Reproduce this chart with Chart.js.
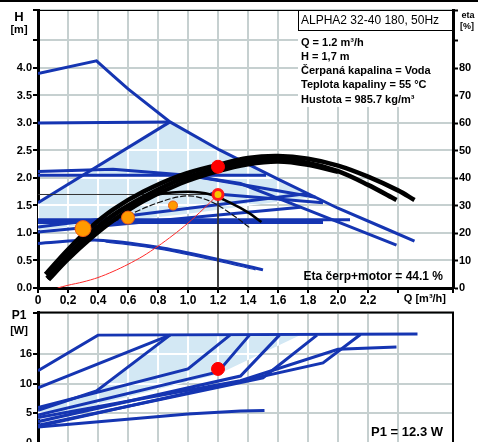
<!DOCTYPE html>
<html>
<head>
<meta charset="utf-8" />
<script src="https://cdn.jsdelivr.net/npm/chart.js@4.4.1/dist/chart.umd.min.js"></script>
<style>
 html, body { margin: 0; padding: 0; background: #fff; overflow: hidden; }
 body { width: 478px; height: 442px; position: relative; }
 #bar { position: absolute; left: 0; top: 0; width: 478px; height: 2px; background: #000; }
 #c1 { position: absolute; left: 0; top: 0; }
 #c2 { position: absolute; left: 0; top: 305px; }
</style>
<title>ALPHA2 32-40 180</title>
</head>
<body>
<canvas id="c1" width="478" height="305"></canvas>
<canvas id="c2" width="478" height="170"></canvas>
<div id="bar"></div>
<script>
// ---- data (Q in m3/h, H in m, eta in %, P1 in W) ----
var curveIII   = [[0,3.9],[0.39,4.13],[0.5,3.86],[0.6,3.62],[0.88,3.02],[1.21,2.51],[1.6,1.98],[2.0,1.45],[2.3,1.1],[2.51,0.85]];
var curveII    = [[0,2.12],[0.5,2.16],[1.0,2.05],[1.35,1.9],[1.75,1.47],[2.39,0.78]];
var curveI     = [[0,0.81],[0.4,0.87],[0.8,0.74],[1.2,0.52],[1.5,0.33]];
var curveIb    = [[0.45,0.84],[0.8,0.71],[1.2,0.49],[1.45,0.33]];
var cp3        = [[0,3.0],[0.88,3.02]];
var pp3        = [[0,1.55],[0.88,3.02]];
var cp2        = [[0,2.05],[1.52,2.05]];
var pp2        = [[0,1.11],[1.8,1.72]];
var pp1        = [[0,1.02],[1.75,1.47]];
var cp1        = [[0,1.24],[2.08,1.24]];
var cp1b       = [[0,1.19],[1.9,1.19]];
var fanA       = [[1.0,2.05],[1.85,1.65]];
var fanB       = [[1.15,1.72],[1.9,1.55]];
var autoArea   = [[0,1.05],[0,1.55],[0.88,3.02],[1.21,2.51],[1.6,1.98],[1.85,1.66],[1.0,1.35],[0,1.05]];

var etaA = [[0.05,5],[0.2,14],[0.35,22],[0.5,28.5],[0.7,35],[0.95,41],[1.2,44.8],[1.4,47.3],[1.6,48],[1.8,47],[2.0,44.5],[2.2,40.5],[2.4,35.5],[2.51,32]];
var etaB = [[0.06,3.5],[0.2,12],[0.35,20],[0.5,26.5],[0.7,33],[0.95,39.5],[1.2,43.5],[1.4,46],[1.6,46.8],[1.8,45.5],[2.0,42.5],[2.2,37.5],[2.39,32]];
var etaC = [[0.07,3],[0.2,10.5],[0.35,18],[0.5,24.5],[0.7,31.5],[0.95,38],[1.2,42.5],[1.4,45],[1.6,46],[1.8,44.8],[2.0,42.3]];
var etaD = [[0.3,17],[0.5,26],[0.65,31],[0.8,34],[1.0,35],[1.15,34],[1.3,30.5],[1.4,27.5],[1.49,24]];
var etaE = [[0.5,24],[0.8,31],[1.0,33.5],[1.15,31.5],[1.3,26.5],[1.41,22]];

var systemCurve = [[0.13,0],[0.2,0.05],[0.3,0.11],[0.4,0.19],[0.5,0.3],[0.6,0.43],[0.7,0.58],[0.8,0.76],[0.9,0.96],[1.0,1.18],[1.1,1.43],[1.2,1.7]];
var dutyQ = 1.2, dutyH = 1.7, dutyEta = 44.1, dutyP1 = 12.3;
var orangePts = [[0.3,1.08],[0.6,1.28],[0.9,1.5]];

var p1III  = [[0,12.2],[0.4,18.2],[2.53,18.4]];
var p1II   = [[0,4.3],[1.35,10.5],[2.0,15.8],[2.39,16.2]];
var p1I    = [[0,2.7],[1.0,4.9],[1.35,5.4],[1.51,5.5]];
var p1pp3  = [[0,9.3],[0.88,18.2]];
var p1edge = [[0,5.5],[0.39,8.8],[0.88,18.2]];
var p1fan1 = [[0,6.0],[1.0,12.5],[1.28,18.2]];
var p1fan2 = [[0,4.7],[1.2,12.0],[1.41,18.2]];
var p1fan3 = [[0,3.6],[1.35,11.3],[1.61,18.2]];
var p1fan4 = [[0,3.0],[1.5,11.0],[1.86,18.2]];
var p1fan5 = [[0,2.8],[1.9,13.5],[2.15,18.3]];
var p1Area = [[0,4.0],[0,5.5],[0.39,8.8],[0.88,18.2],[1.75,18.2],[1.2,11.6],[0,4.0]];

var qTicksShown = 2.2;
var hTicksShown = 4.0;
var etaTicksShown = 80;

// ---- styles ----
var BLUE = '#1535b2';
var SHADE = '#d3e8f4';
var GRID = '#c6d0d0';
var FONT = '"Liberation Sans", Arial, sans-serif';

function xy(arr) { return arr.map(function (p) { return {x: p[0], y: p[1]}; }); }
function ln(arr, extra) {
    var d = {data: xy(arr), borderColor: BLUE, borderWidth: 3, pointRadius: 0, fill: false, tension: 0, order: 50, yAxisID: 'y'};
    for (var k in extra) d[k] = extra[k];
    return d;
}
function dot(arr, r, bg, bc, bw, axis) {
    return {data: xy(arr), showLine: false, pointRadius: r, pointBackgroundColor: bg, pointBorderColor: bc, pointBorderWidth: bw, order: 1, yAxisID: axis || 'y'};
}

// white grid lines inside the shaded area
var shadeGrid = {
    id: 'shadeGrid',
    afterDatasetDraw: function (chart, args) {
        if (chart.data.datasets[args.index].label !== 'shade') return;
        var pts = args.meta.data, c = chart.ctx, a = chart.chartArea;
        c.save();
        c.beginPath();
        pts.forEach(function (p, i) { if (i) c.lineTo(p.x, p.y); else c.moveTo(p.x, p.y); });
        c.closePath();
        c.clip();
        c.strokeStyle = '#fff';
        c.lineWidth = 2;
        var sx = chart.scales.x, sy = chart.scales.y;
        sx.ticks.forEach(function (t) { var px = Math.round(sx.getPixelForValue(t.value)); c.beginPath(); c.moveTo(px, a.top); c.lineTo(px, a.bottom); c.stroke(); });
        sy.ticks.forEach(function (t) { var py = Math.round(sy.getPixelForValue(t.value)); c.beginPath(); c.moveTo(a.left, py); c.lineTo(a.right, py); c.stroke(); });
        c.restore();
    }
};

var topText = {
    id: 'topText',
    afterDraw: function (chart) {
        var c = chart.ctx, a = chart.chartArea;
        c.save();
        // top frame line
        c.strokeStyle = '#000'; c.lineWidth = 1;
        c.beginPath(); c.moveTo(a.left, a.top + 0.5); c.lineTo(a.right, a.top + 0.5); c.stroke();
        c.fillStyle = '#000';
        c.textBaseline = 'middle'; c.textAlign = 'center';
        c.font = 'bold 13px ' + FONT; c.fillText('H', 19, 17);
        c.font = 'bold 11px ' + FONT; c.fillText('[m]', 19, 30);
        c.font = 'bold 9px ' + FONT; c.fillText('eta', 468, 16); c.fillText('[%]', 467, 27);
        // info block
        c.fillStyle = '#fff';
        c.fillRect(298, 11, a.right - 299, 96);
        c.strokeStyle = '#000'; c.lineWidth = 1;
        c.strokeRect(298.5, a.top + 0.5, a.right - 298, 20);
        c.fillStyle = '#000'; c.textAlign = 'left';
        c.font = '12px ' + FONT;
        c.fillText('ALPHA2 32-40 180, 50Hz', 301, 21);
        c.font = 'bold 11px ' + FONT;
        c.fillText('Q = 1.2 m\u00b3/h', 301, 43);
        c.fillText('H = 1,7 m', 301, 57);
        c.fillText('\u010cerpan\u00e1 kapalina = Voda', 301, 71);
        c.fillText('Teplota kapaliny = 55 \u00b0C', 301, 85);
        c.fillText('Hustota = 985.7 kg/m\u00b3', 301, 100);
        c.textAlign = 'right';
        c.font = 'bold 12px ' + FONT;
        c.fillText('Eta \u010derp+motor = ' + dutyEta + ' %', 443, 277);
        c.font = 'bold 11px ' + FONT;
        c.fillText('Q [m\u00b3/h]', 446, 299);
        c.restore();
    }
};

var botText = {
    id: 'botText',
    afterDraw: function (chart) {
        var c = chart.ctx, a = chart.chartArea;
        c.save();
        c.strokeStyle = '#000'; c.lineWidth = 2;
        c.beginPath(); c.moveTo(a.left, a.top); c.lineTo(a.right, a.top); c.lineTo(a.right, a.bottom); c.stroke();
        c.fillStyle = '#000'; c.textBaseline = 'middle'; c.textAlign = 'center';
        c.font = 'bold 12px ' + FONT; c.fillText('P1', 19, 11);
        c.font = 'bold 11px ' + FONT; c.fillText('[W]', 19, 26);
        c.textAlign = 'right';
        c.font = 'bold 13px ' + FONT;
        c.fillText('P1 = ' + dutyP1 + ' W', 443, 127);
        c.restore();
    }
};

function qLabel(v) {
    if (v > qTicksShown + 0.05) return '';
    if (Math.abs(v) < 1e-9) return '0';
    return v.toFixed(1).replace('.', ',');
}

Chart.defaults.font.family = FONT;
Chart.defaults.font.weight = 'bold';
Chart.defaults.font.size = 11;
Chart.defaults.color = '#000';

new Chart(document.getElementById('c1'), {
    type: 'line',
    data: {
        datasets: [
            ln(autoArea, {label: 'shade', fill: 'shape', backgroundColor: SHADE, borderWidth: 0, order: 100}),
            ln(curveIII), ln(cp3), ln(pp3), ln(curveII), ln(cp2), ln(pp2), ln(pp1), ln(cp1), ln(cp1b),
            ln(fanA), ln(fanB),
            ln(curveI, {tension: 0.3}), ln(curveIb, {tension: 0.3, borderWidth: 1.2}),
            ln([[0, dutyH], [dutyQ, dutyH], [dutyQ, 0]], {borderColor: '#333', borderWidth: 1, order: 40}),
            ln(systemCurve, {borderColor: '#ff2a2a', borderWidth: 1, tension: 0.3, order: 30}),
            ln(etaC, {borderColor: '#000', borderWidth: 4.5, tension: 0.35, order: 20, yAxisID: 'y2'}),
            ln(etaB, {borderColor: '#000', borderWidth: 4.5, tension: 0.35, order: 20, yAxisID: 'y2'}),
            ln(etaA, {borderColor: '#000', borderWidth: 4.5, tension: 0.35, order: 20, yAxisID: 'y2'}),
            ln(etaD, {borderColor: '#000', borderWidth: 2.5, tension: 0.35, order: 20, yAxisID: 'y2'}),
            ln(etaE, {borderColor: '#111', borderWidth: 1.2, borderDash: [6, 2], tension: 0.35, order: 20, yAxisID: 'y2'}),
            dot([orangePts[0]], 8, '#ff9a00', '#f05a14', 1),
            dot([orangePts[1]], 6.5, '#ff9a00', '#f05a14', 1),
            dot([orangePts[2]], 4.5, '#ff9a00', '#f05a14', 1),
            dot([[dutyQ, dutyH]], 5, '#f7c600', '#ff1a1a', 3),
            dot([[dutyQ, dutyEta]], 6.5, '#ff0000', '#ff0000', 1, 'y2')
        ]
    },
    options: {
        responsive: false,
        animation: false,
        layout: {padding: {top: 10, left: 0, right: 0, bottom: 0}},
        plugins: {legend: {display: false}, tooltip: {enabled: false}},
        scales: {
            x: {
                type: 'linear', min: 0, max: 2.7667,
                grid: {color: GRID, lineWidth: 2, tickColor: '#000', tickLength: 5, tickWidth: 2},
                border: {color: '#000', width: 3},
                ticks: {stepSize: 0.2, autoSkip: false, maxRotation: 0, padding: 0, callback: qLabel, font: {size: 12}},
                afterFit: function (s) { s.height = 17; }
            },
            y: {
                position: 'left', min: 0, max: 5.0545,
                grid: {color: GRID, lineWidth: 2, tickColor: '#000', tickLength: 5, tickWidth: 2},
                border: {color: '#000', width: 3},
                ticks: {stepSize: 0.5, autoSkip: false, padding: 1,
                    callback: function (v) { return v <= hTicksShown + 0.01 ? v.toFixed(1) : ''; }},
                afterFit: function (s) { s.width = 38; }
            },
            y2: {
                position: 'right', min: 0, max: 101.1,
                grid: {drawOnChartArea: false, tickColor: '#000', tickLength: 5, tickWidth: 2},
                border: {color: '#000', width: 3},
                ticks: {stepSize: 10, autoSkip: false, padding: 1,
                    callback: function (v) { return v <= etaTicksShown ? String(v) : ''; }},
                afterFit: function (s) { s.width = 25; }
            }
        }
    },
    plugins: [shadeGrid, topText]
});

new Chart(document.getElementById('c2'), {
    type: 'line',
    data: {
        datasets: [
            ln(p1Area, {label: 'shade', fill: 'shape', backgroundColor: SHADE, borderWidth: 0, order: 100}),
            ln(p1III), ln(p1II), ln(p1I), ln(p1pp3), ln(p1edge),
            ln(p1fan1), ln(p1fan2), ln(p1fan3), ln(p1fan4), ln(p1fan5),
            dot([[dutyQ, 12.5]], 6.5, '#ff0000', '#ff0000', 1)
        ]
    },
    options: {
        responsive: false,
        animation: false,
        layout: {padding: {top: 6, left: 0, right: 25, bottom: 0}},
        plugins: {legend: {display: false}, tooltip: {enabled: false}},
        scales: {
            x: {
                type: 'linear', min: 0, max: 2.7667,
                grid: {color: GRID, lineWidth: 2, drawTicks: false},
                border: {display: false},
                ticks: {stepSize: 0.2, display: false},
                afterFit: function (s) { s.height = 32; }
            },
            y: {
                min: 0, max: 22,
                grid: {color: GRID, lineWidth: 2, tickColor: '#000', tickLength: 5, tickWidth: 2},
                border: {color: '#000', width: 3},
                ticks: {stepSize: 5, autoSkip: false, padding: 1,
                    callback: function (v) { return v === 15 ? '16' : (v <= 15 ? String(v) : ''); }},
                afterFit: function (s) { s.width = 38; }
            }
        }
    },
    plugins: [shadeGrid, botText]
});
</script>
</body>
</html>
